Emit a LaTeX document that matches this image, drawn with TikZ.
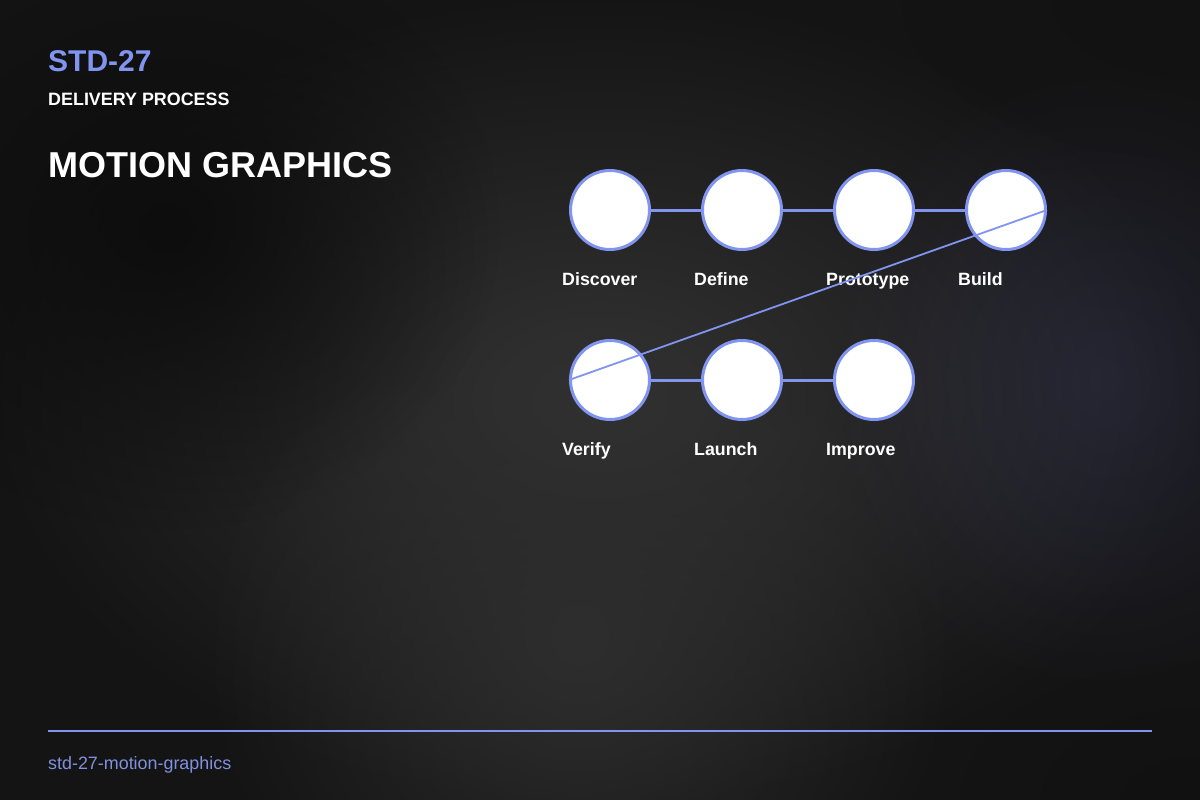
\documentclass[tikz,border=0pt]{standalone}
\usepackage{fontspec}
\setmainfont{Liberation Sans}
\usetikzlibrary{fadings}
\definecolor{accent}{HTML}{8094F0}
\definecolor{footc}{HTML}{8290E0}
\tikzfading[name=softglow, inner color=transparent!0, outer color=transparent!100]
\tikzset{
  stage/.style={circle, draw=accent, line width=3pt, fill=white, minimum size=79pt, inner sep=0pt},
  link/.style={draw=accent, line width=3pt},
  jump/.style={draw=accent, line width=1.8pt},
  lbl/.style={anchor=base west, inner sep=0pt, text=white, font=\fontsize{17.8}{20}\selectfont\bfseries}
}
\begin{document}
\begin{tikzpicture}[x=1pt,y=-1pt]
\useasboundingbox (0,0) rectangle (1200,800);
\fill[black!90!white] (0,0) rectangle (1200,800);
\shade[inner color=black!80!white, outer color=black!92!white] (0,0) rectangle (1200,800);
\fill[black!82!white, path fading=softglow] (580,640) ellipse (380 and 380);
\fill[black!95!white, path fading=softglow] (170,230) ellipse (330 and 300);
\fill[blue!30!black!70!white, opacity=0.25, path fading=softglow] (1100,380) ellipse (280 and 320);
\begin{scope}
\clip (0,0) rectangle (1200,800);
\fill[black!94!white, opacity=0.6, path fading=softglow] (1200,800) ellipse (240 and 140);
\fill[black!94!white, opacity=0.4, path fading=softglow] (1200,0) ellipse (300 and 160);
\end{scope}

\node[anchor=base west, inner sep=0pt, text=accent, font=\fontsize{30}{32}\selectfont\bfseries] (code) at (48,72) {STD-27};
\node[anchor=base west, inner sep=0pt, text=white, font=\fontsize{17.9}{20}\selectfont\bfseries] (sub) at (48,105) {DELIVERY PROCESS};
\node[anchor=base west, inner sep=0pt, text=white, font=\fontsize{36}{40}\selectfont\bfseries] (title) at (48,177) {MOTION GRAPHICS};

\node[stage] (c1) at (610,210) {};
\node[stage] (c2) at (742,210) {};
\node[stage] (c3) at (874,210) {};
\node[stage] (c4) at (1006,210) {};
\node[stage] (c5) at (610,380) {};
\node[stage] (c6) at (742,380) {};
\node[stage] (c7) at (874,380) {};

\draw[link] (c1) -- (c2);
\draw[link] (c2) -- (c3);
\draw[link] (c3) -- (c4);
\draw[link] (c5) -- (c6);
\draw[link] (c6) -- (c7);

\node[lbl] (l1) at (562,285) {Discover};
\node[lbl] (l2) at (694,285) {Define};
\node[lbl] (l3) at (826,285) {Prototype};
\node[lbl] (l4) at (958,285) {Build};
\node[lbl] (l5) at (562,455) {Verify};
\node[lbl] (l6) at (694,455) {Launch};
\node[lbl] (l7) at (826,455) {Improve};

\draw[jump] (c4.east) -- (c5.west);

\coordinate (fl) at (48,731);
\coordinate (fr) at (1152,731);
\draw[draw=accent, line width=2pt] (fl) -- (fr);
\node[anchor=base west, inner sep=0pt, text=footc, font=\fontsize{17.9}{20}\selectfont] (foot) at (48,769) {std-27-motion-graphics};
\end{tikzpicture}
\end{document}
